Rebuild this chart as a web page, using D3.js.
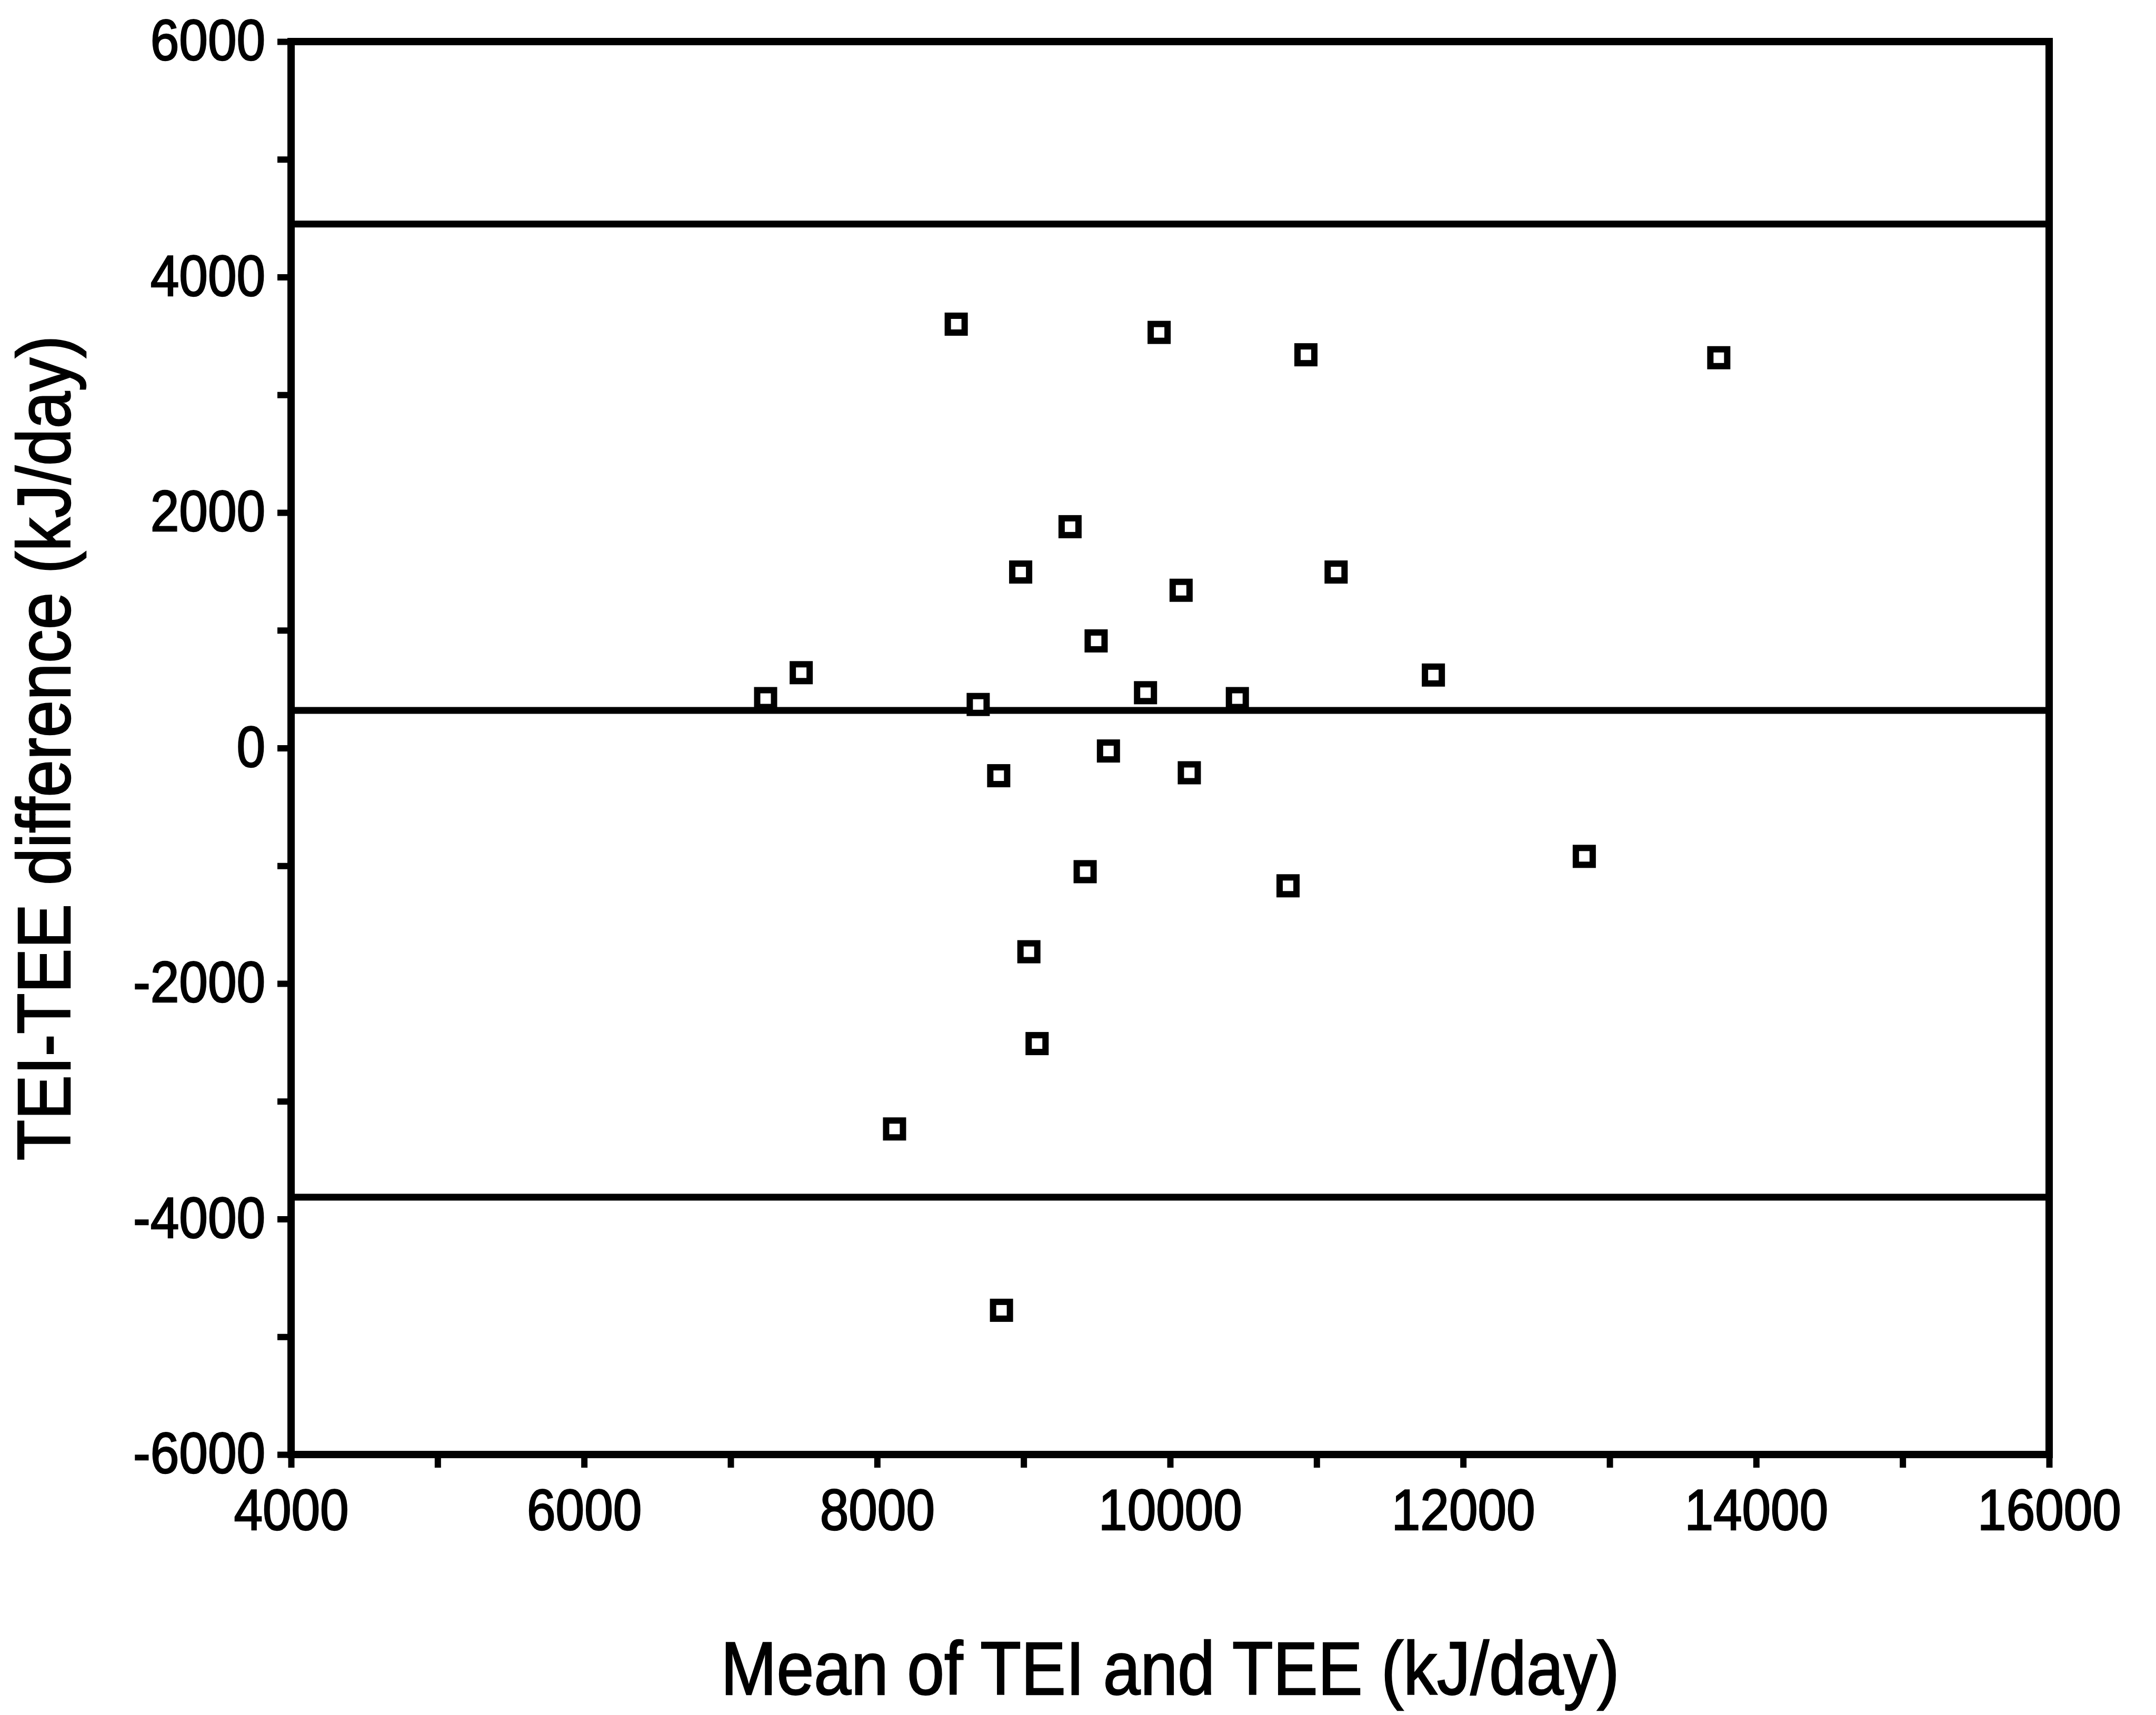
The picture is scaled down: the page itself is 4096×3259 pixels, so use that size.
<!DOCTYPE html>
<html lang="en">
<head>
  <meta charset="utf-8">
  <title>TEI-TEE Bland-Altman plot</title>
  <style>
    body { margin: 0; background: #fff; }
    svg { display: block; }
    text { font-family: "Liberation Sans", Arial, sans-serif; fill: #000; stroke: #000; stroke-width: 2.5px; }
  </style>
</head>
<body>
  <svg id="chart"></svg>

  <script src="https://d3js.org/d3.v7.min.js"></script>
  <script>
    // Mean of TEI and TEE (kJ/day)
    const meanValues = [
      8540, 9925, 10927, 13745, 9317, 8980, 11133, 10075, 9495, 7482,
      7239, 8690, 9832, 10459, 11797, 9579, 8830, 10131, 9420, 10805,
      12827, 9036, 9092, 8119, 8849
    ];
    // TEI-TEE difference (kJ/day)
    const diffValues = [
      3600, 3530, 3340, 3315, 1880, 1495, 1495, 1340, 910, 640,
      420, 370, 470, 420, 620, -25, -235, -210, -1050, -1170,
      -920, -1730, -2510, -3235, -4775
    ];
    // mean difference and limits of agreement
    const refLines = [4450, 320, -3815];

    const xTicks = d3.range(4000, 16001, 1000);
    const yTicks = d3.range(-6000, 6001, 1000);
    const xLabel = "Mean of TEI and TEE (kJ/day)";
    const yLabel = "TEI-TEE difference (kJ/day)";

    const width = 4096;
    const height = 3259;
    const margin = { top: 79, right: 203, bottom: 495, left: 553 };
    const x0 = margin.left, x1 = width - margin.right;
    const y0 = margin.top, y1 = height - margin.bottom;

    const svg = d3.select("#chart")
      .attr("width", width)
      .attr("height", height);

    const x = d3.scaleLinear().domain([4000, 16000]).range([x0, x1]);
    const y = d3.scaleLinear().domain([-6000, 6000]).range([y1, y0]);

    // squeeze text a little, the original type is narrower than Arial
    function condense(sel, k) {
      sel.each(function () {
        const len = this.getComputedTextLength();
        d3.select(this)
          .attr("textLength", len * k)
          .attr("lengthAdjust", "spacingAndGlyphs");
      });
    }

    const label = d => (d % 2000 === 0 ? String(d) : "");

    const xAxis = svg.append("g")
      .attr("transform", `translate(0,${y1})`)
      .call(d3.axisBottom(x).tickValues(xTicks).tickFormat(label)
        .tickSize(25).tickSizeOuter(0).tickPadding(41));

    const yAxis = svg.append("g")
      .attr("transform", `translate(${x0},0)`)
      .call(d3.axisLeft(y).tickValues(yTicks).tickFormat(label)
        .tickSize(26).tickSizeOuter(0).tickPadding(23));

    [xAxis, yAxis].forEach(g => {
      g.select(".domain").remove();
      g.selectAll(".tick line").attr("stroke", "#000").attr("stroke-width", 12);
      g.selectAll(".tick text")
        .attr("font-size", 109)
        .attr("font-family", null)
        .call(condense, 0.9);
      g.attr("font-family", null).attr("font-size", null);
    });

    // reference lines
    svg.append("g")
      .selectAll("line")
      .data(refLines)
      .join("line")
      .attr("x1", x0)
      .attr("x2", x1)
      .attr("y1", d => y(d))
      .attr("y2", d => y(d))
      .attr("stroke", "#000")
      .attr("stroke-width", 13);

    // frame
    svg.append("rect")
      .attr("x", x0)
      .attr("y", y0)
      .attr("width", x1 - x0)
      .attr("height", y1 - y0)
      .attr("fill", "none")
      .attr("stroke", "#000")
      .attr("stroke-width", 14);

    // open square markers
    const pts = meanValues.map((m, i) => ({ m, d: diffValues[i] }));
    const s = 32;
    svg.append("g")
      .selectAll("rect")
      .data(pts)
      .join("rect")
      .attr("x", p => x(p.m) - s / 2)
      .attr("y", p => y(p.d) - s / 2)
      .attr("width", s)
      .attr("height", s)
      .attr("fill", "#fff")
      .attr("stroke", "#000")
      .attr("stroke-width", 12);

    // axis titles
    svg.append("text")
      .attr("x", (x0 + x1) / 2)
      .attr("y", 3220)
      .attr("text-anchor", "middle")
      .attr("font-size", 143)
      .text(xLabel)
      .call(condense, 0.89);

    svg.append("text")
      .attr("transform", `translate(133,${(y0 + y1) / 2}) rotate(-90)`)
      .attr("text-anchor", "middle")
      .attr("font-size", 143)
      .text(yLabel)
      .call(condense, 0.89);
  </script>
</body>
</html>
